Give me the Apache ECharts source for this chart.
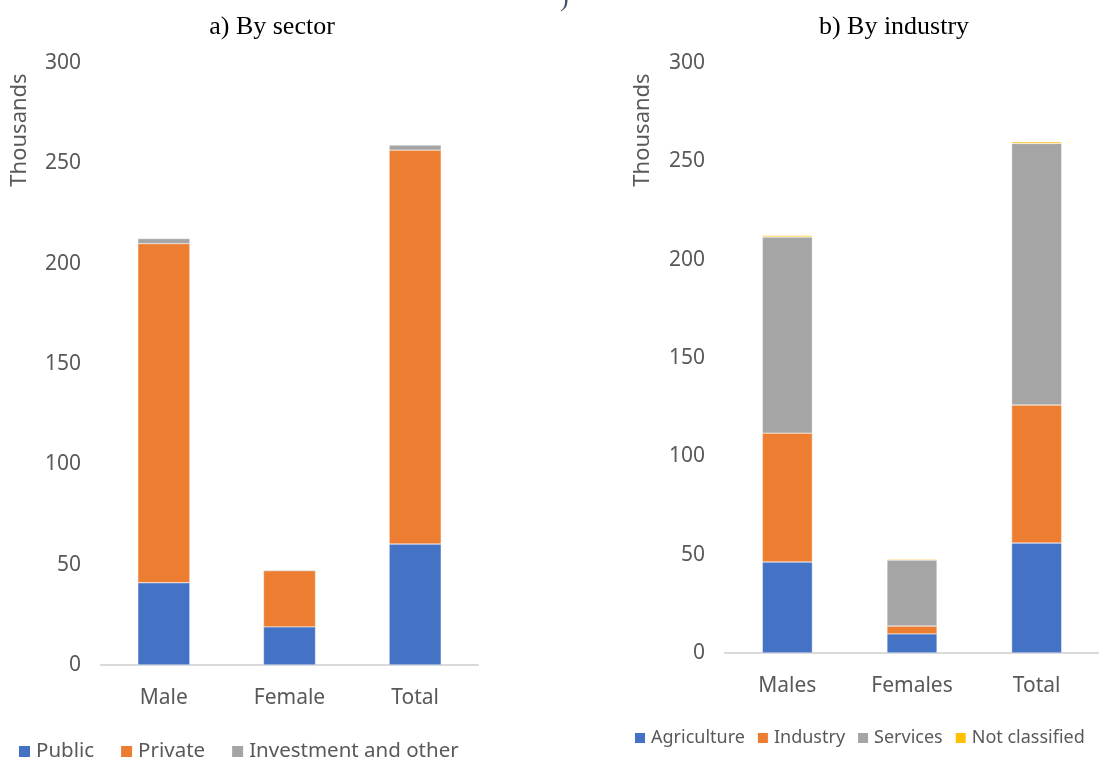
<!DOCTYPE html>
<html>
<head>
<meta charset="utf-8">
<script src="https://cdn.jsdelivr.net/npm/echarts@6/dist/echarts.min.js"></script>
<style>
    html, body { margin: 0; padding: 0; background: #fff; }
    #main { width: 1099px; height: 759px; }
</style>
</head>
<body>
<div id="main"></div>
<script>
// a) By sector
var sectorCategories = ["Male", "Female", "Total"];
var sectorPublic = [41, 19, 60.3];
var sectorPrivate = [169, 28, 196.3];
var sectorOther = [2.5, 0.5, 2.5];

// b) By industry
var industryCategories = ["Males", "Females", "Total"];
var industryAgriculture = [46.3, 9.7, 55.9];
var industryIndustry = [65.5, 4, 70.2];
var industryServices = [99.7, 33.6, 133];
var industryNotClassified = [0.7, 0.5, 0.8];

var yTicks = [0, 50, 100, 150, 200, 250, 300];

var FONT = "Noto Sans";
var GREY = "#595959";
var COLORS = {blue: "#4472c4", orange: "#ed7d31", grey: "#a5a5a5", yellow: "#ffc000"};

var chart = echarts.init(document.getElementById("main"));

function xAxis(idx, cats) {
    return {
        type: "category", gridIndex: idx, data: cats,
        axisLine: {lineStyle: {color: "#d9d9d9", width: 2}},
        axisTick: {show: false},
        axisLabel: {color: GREY, fontFamily: FONT, fontSize: 21, margin: 23}
    };
}

function yAxis(idx) {
    return {
        type: "value", gridIndex: idx, min: yTicks[0], max: yTicks[yTicks.length - 1], interval: 50,
        axisLine: {show: false}, axisTick: {show: false}, splitLine: {show: false},
        axisLabel: {color: GREY, fontFamily: FONT, fontSize: 21, margin: 20}
    };
}

function bar(name, data, color, idx, width) {
    return {
        name: name, type: "bar", stack: "s" + idx, xAxisIndex: idx, yAxisIndex: idx,
        data: data, barWidth: width,
        itemStyle: {color: color, borderColor: "#fff", borderWidth: 0.4}
    };
}

// 纵轴标题，旋转文字
function axisName(x, y) {
    return {
        type: "text", x: x, y: y, rotation: Math.PI / 2,
        style: {text: "Thousands", fill: GREY, font: "22px '" + FONT + "'",
            textAlign: "center", textVerticalAlign: "middle"}
    };
}

var option = {
    animation: false,
    backgroundColor: "#fff",
    title: [
        {text: "a) By sector", left: 267, top: 9, textAlign: "center",
            textStyle: {fontFamily: "Liberation Serif", fontSize: 26, fontWeight: "normal", color: "#000"}},
        {text: "b) By industry", left: 889, top: 9, textAlign: "center",
            textStyle: {fontFamily: "Liberation Serif", fontSize: 26, fontWeight: "normal", color: "#000"}},
        {text: ")", left: 555, top: -19,
            textStyle: {fontFamily: "Liberation Serif", fontSize: 26, fontWeight: "normal", color: "#44546a"}}
    ],
    graphic: [axisName(20, 130), axisName(643, 130)],
    grid: [
        {left: 101, right: 621, top: 63, bottom: 94, containLabel: false, outerBoundsMode: "none"},
        {left: 725, right: 0, top: 63, bottom: 106, containLabel: false, outerBoundsMode: "none"}
    ],
    xAxis: [xAxis(0, sectorCategories), xAxis(1, industryCategories)],
    yAxis: [yAxis(0), yAxis(1)],
    legend: [
        {data: ["Public", "Private", "Investment and other"], left: 12, top: 736,
            itemWidth: 13, itemHeight: 13, itemGap: 25, icon: "rect",
            textStyle: {color: GREY, fontFamily: FONT, fontSize: 20.5}},
        {data: ["Agriculture", "Industry", "Services", "Not classified"], left: 628, top: 724,
            itemWidth: 12, itemHeight: 12, itemGap: 11, icon: "rect",
            textStyle: {color: GREY, fontFamily: FONT, fontSize: 18}}
    ],
    series: [
        bar("Public", sectorPublic, COLORS.blue, 0, 52),
        bar("Private", sectorPrivate, COLORS.orange, 0, 52),
        bar("Investment and other", sectorOther, COLORS.grey, 0, 52),
        bar("Agriculture", industryAgriculture, COLORS.blue, 1, 50),
        bar("Industry", industryIndustry, COLORS.orange, 1, 50),
        bar("Services", industryServices, COLORS.grey, 1, 50),
        bar("Not classified", industryNotClassified, COLORS.yellow, 1, 50)
    ]
};

chart.setOption(option);
</script>
</body>
</html>
